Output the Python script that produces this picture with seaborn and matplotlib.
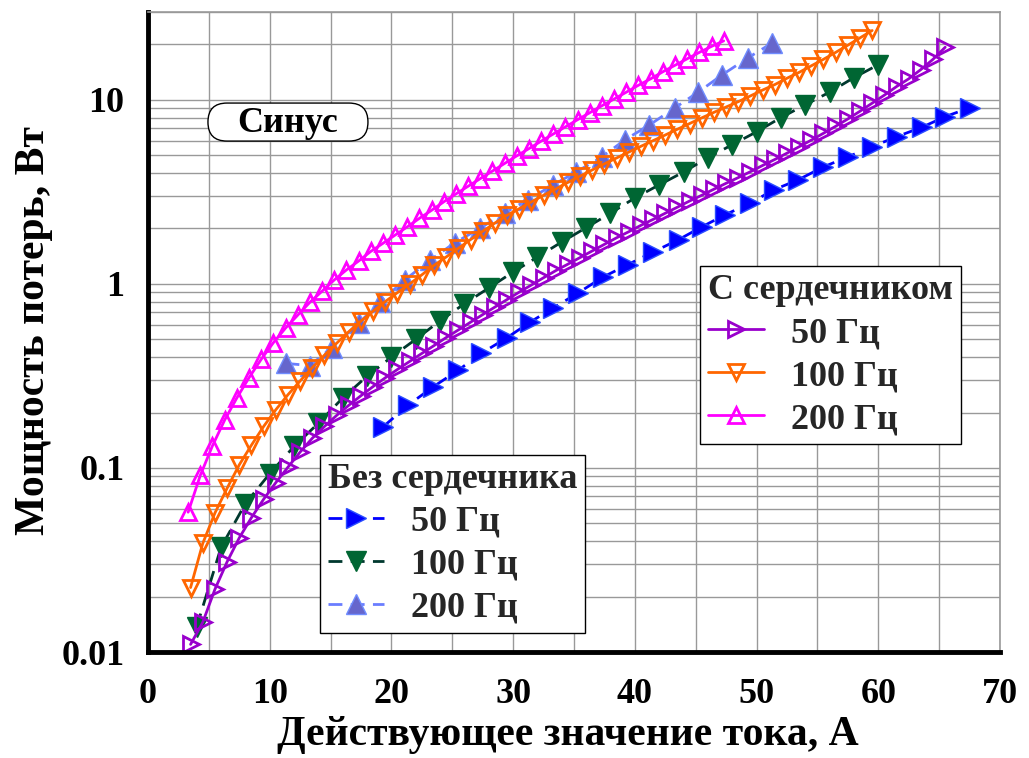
import numpy as np
import matplotlib
matplotlib.use("Agg")
import matplotlib.pyplot as plt
import seaborn as sns
from matplotlib.lines import Line2D
from matplotlib.patches import FancyBboxPatch
from matplotlib.ticker import LogLocator, NullFormatter

# С сердечником, 50 Гц (ток, А / мощность, Вт)
core50_i = [3.5, 4.5, 5.5, 6.5, 7.5, 8.5, 9.5, 10.5, 11.5, 12.5, 13.5, 14.5, 15.5, 16.5,
            17.5, 18.5, 19.5, 20.5, 21.5, 22.5, 23.5, 24.5, 25.5, 26.5, 27.5, 28.5, 29.5,
            30.5, 31.5, 32.5, 33.5, 34.5, 35.5, 36.5, 37.5, 38.5, 39.5, 40.5, 41.5, 42.5,
            43.5, 44.5, 45.5, 46.5, 47.5, 48.5, 49.5, 50.5, 51.5, 52.5, 53.5, 54.5, 55.5,
            56.5, 57.5, 58.5, 59.5, 60.5, 61.5, 62.5, 63.5, 64.5, 65.5]
core50_p = [0.011, 0.0145, 0.0219, 0.0309, 0.0417, 0.0537, 0.0676, 0.0832, 0.101, 0.122,
            0.145, 0.168, 0.193, 0.219, 0.247, 0.277, 0.309, 0.343, 0.379, 0.419, 0.462,
            0.511, 0.562, 0.619, 0.681, 0.748, 0.822, 0.902, 0.986, 1.08, 1.18, 1.28, 1.39,
            1.51, 1.64, 1.78, 1.92, 2.08, 2.24, 2.42, 2.61, 2.82, 3.03, 3.27, 3.52, 3.78,
            4.07, 4.40, 4.74, 5.13, 5.56, 6.04, 6.58, 7.18, 7.87, 8.67, 9.59, 10.6, 11.8,
            13.0, 14.6, 16.6, 19.3]

# С сердечником, 100 Гц
core100_i = [3.5, 4.5, 5.5, 6.5, 7.5, 8.5, 9.5, 10.5, 11.5, 12.5, 13.5, 14.5, 15.5, 16.5,
             17.5, 18.5, 19.5, 20.5, 21.5, 22.5, 23.5, 24.5, 25.5, 26.5, 27.5, 28.5, 29.5,
             30.5, 31.5, 32.5, 33.5, 34.5, 35.5, 36.5, 37.5, 38.5, 39.5, 40.5, 41.5, 42.5,
             43.5, 44.5, 45.5, 46.5, 47.5, 48.5, 49.5, 50.5, 51.5, 52.5, 53.5, 54.5, 55.5,
             56.5, 57.5, 58.5, 59.5]
core100_p = [0.0224, 0.0389, 0.0569, 0.0776, 0.104, 0.133, 0.168, 0.207, 0.250, 0.297,
             0.351, 0.410, 0.476, 0.550, 0.628, 0.711, 0.802, 0.897, 1.00, 1.12, 1.26, 1.40,
             1.56, 1.74, 1.93, 2.14, 2.36, 2.56, 2.79, 3.03, 3.28, 3.56, 3.85, 4.16, 4.49,
             4.83, 5.20, 5.59, 6.00, 6.44, 6.92, 7.43, 7.98, 8.55, 9.14, 9.77, 10.5, 11.3,
             12.1, 13.1, 14.1, 15.3, 16.6, 18.1, 19.8, 21.7, 23.8]

# С сердечником, 200 Гц
core200_i = [3.3, 4.3, 5.3, 6.3, 7.3, 8.3, 9.3, 10.3, 11.3, 12.3, 13.3, 14.3, 15.3, 16.3,
             17.3, 18.3, 19.3, 20.3, 21.3, 22.3, 23.3, 24.3, 25.3, 26.3, 27.3, 28.3, 29.3,
             30.3, 31.3, 32.3, 33.3, 34.3, 35.3, 36.3, 37.3, 38.3, 39.3, 40.3, 41.3, 42.3,
             43.3, 44.3, 45.3, 46.3, 47.3]
core200_p = [0.0575, 0.0912, 0.132, 0.182, 0.240, 0.309, 0.389, 0.479, 0.575, 0.676, 0.794,
             0.912, 1.05, 1.19, 1.33, 1.50, 1.66, 1.84, 2.04, 2.27, 2.51, 2.79, 3.08, 3.39,
             3.73, 4.10, 4.51, 4.96, 5.43, 5.96, 6.52, 7.13, 7.80, 8.51, 9.29, 10.1, 11.0,
             12.0, 13.0, 14.2, 15.4, 16.7, 18.1, 19.5, 20.9]

# Без сердечника, 50 Гц
nocore50_i = [19.3, 21.4, 23.4, 25.5, 27.4, 29.5, 31.4, 33.3, 35.3, 37.4, 39.4, 41.5, 43.6,
              45.5, 47.4, 49.5, 51.4, 53.4, 55.5, 57.5, 59.5, 61.5, 63.6, 65.5, 67.5]
nocore50_p = [0.167, 0.22, 0.275, 0.34, 0.42, 0.51, 0.62, 0.74, 0.89, 1.09, 1.27, 1.49, 1.74,
              2.04, 2.37, 2.75, 3.24, 3.67, 4.32, 4.9, 5.56, 6.3, 7.1, 8.1, 9.05]

# Без сердечника, 100 Гц
nocore100_i = [4, 6, 8, 10, 12, 14, 16, 18, 20, 22, 24, 26, 28, 30, 32, 34, 36, 38, 40, 42,
               44, 46, 48, 50, 52, 54, 56, 58, 60]
nocore100_p = [0.0137, 0.037, 0.064, 0.093, 0.131, 0.175, 0.24, 0.315, 0.40, 0.50, 0.63, 0.78,
               0.95, 1.16, 1.40, 1.69, 2.02, 2.42, 2.93, 3.45, 4.05, 4.85, 5.7, 6.7, 8.0, 9.4,
               11.0, 13.2, 15.5]

# Без сердечника, 200 Гц
nocore200_i = [11.3, 13.3, 15.1, 17.3, 19.1, 21.1, 23.2, 25.2, 27.3, 29.3, 31.2, 33.3, 35.2,
               37.3, 39.2, 41.2, 43.3, 45.2, 47.2, 49.3, 51.3]
nocore200_p = [0.37, 0.36, 0.45, 0.61, 0.80, 1.05, 1.35, 1.67, 2.01, 2.43, 2.86, 3.45, 4.06,
               4.9, 6.07, 7.3, 9.05, 11.0, 13.7, 16.9, 20.4]

freq_labels = ["50 Гц", "100 Гц", "200 Гц"]

sns.set_theme(style="white")
plt.rcParams['font.family'] = ['Liberation Serif', 'DejaVu Serif']
plt.rcParams['font.weight'] = 'bold'
plt.rcParams['axes.labelweight'] = 'bold'

fig, ax = plt.subplots(figsize=(10.29, 7.58), dpi=100)
fig.subplots_adjust(left=0.1438, right=0.9718, bottom=0.1398, top=0.9842)

DASH = (0, (5, 3))
FS = 26

# стили: без сердечника - закрашенные маркеры, пунктир
nocore_styles = [
    dict(color='#0000ff', marker='>', mfc='#0000ff', mec='#2a4dff', lc='#0000ff'),
    dict(color='#006633', marker='v', mfc='#006633', mec='#006633', lc='#00382e'),
    dict(color='#6666cc', marker='^', mfc='#6666cc', mec='#6f8cff', lc='#6a7dff'),
]
core_styles = [
    dict(color='#9900cc', marker='>'),
    dict(color='#ff6600', marker='v'),
    dict(color='#ff00ff', marker='^'),
]

nocore = [(nocore50_i, nocore50_p), (nocore100_i, nocore100_p), (nocore200_i, nocore200_p)]
core = [(core50_i, core50_p), (core100_i, core100_p), (core200_i, core200_p)]

for (xs, ys), st in zip(nocore, nocore_styles):
    sns.lineplot(x=xs, y=ys, ax=ax, estimator=None, sort=False, color=st['lc'],
                 marker=st['marker'], markersize=14, markerfacecolor=st['mfc'],
                 markeredgecolor=st['mec'], markeredgewidth=1, linestyle=DASH,
                 linewidth=2, legend=False)

for (xs, ys), st in zip(core, core_styles):
    sns.lineplot(x=xs, y=ys, ax=ax, estimator=None, sort=False, color=st['color'],
                 marker=st['marker'], markersize=12, markerfacecolor='none',
                 markeredgecolor=st['color'], markeredgewidth=2, linestyle='-',
                 linewidth=2, legend=False)

ax.set_yscale('log')
ax.set_xlim(0, 70)
ax.set_ylim(0.01, 30)

ax.set_xticks(range(0, 71, 10))
ax.set_xticks(range(5, 70, 10), minor=True)
ax.set_yticks([0.01, 0.1, 1, 10])
ax.set_yticklabels(['0.01', '0.1', '1', '10'])
ax.yaxis.set_minor_locator(LogLocator(base=10, subs=np.arange(2, 10)))
ax.yaxis.set_minor_formatter(NullFormatter())

ax.tick_params(which='major', direction='in', length=12, width=3, color='black',
               labelsize=FS, labelcolor='black')
ax.tick_params(which='minor', direction='in', length=6, width=3, color='black')
ax.tick_params(axis='x', which='major', pad=19)
ax.tick_params(axis='y', which='major', pad=17)

ax.grid(True, which='both', color='#999999', linewidth=1)
ax.set_axisbelow(True)

for side in ['left', 'bottom']:
    ax.spines[side].set_linewidth(3.5)
    ax.spines[side].set_color('black')
for side in ['top', 'right']:
    ax.spines[side].set_linewidth(1.2)
    ax.spines[side].set_color('#999999')

ax.set_xlabel('Действующее значение тока, А', fontsize=30, fontweight='bold', color='black')
ax.set_ylabel('Мощность потерь, Вт', fontsize=30, fontweight='bold', color='black')
ax.xaxis.set_label_coords(0.493, -0.1)
ax.yaxis.set_label_coords(-0.112, 0.503)

# подпись "Синус" в овальной рамке
box = FancyBboxPatch((0.0704, 0.7983), 0.1878, 0.0594, transform=ax.transAxes,
                     boxstyle='round,pad=0,rounding_size=0.0223',
                     mutation_aspect=852 / 640, fc='white', ec='black', lw=1, zorder=5)
ax.add_patch(box)
ax.text(0.1643, 0.826, 'Синус', transform=ax.transAxes, fontsize=FS, fontweight='bold',
        ha='center', va='center', zorder=6, color='black')

core_handles = [Line2D([], [], color=st['color'], marker=st['marker'], markersize=12,
                       markerfacecolor='none', markeredgewidth=2, linewidth=2)
                for st in core_styles]
nocore_handles = [Line2D([], [], color=st['lc'], marker=st['marker'], markersize=14,
                         markerfacecolor=st['mfc'], markeredgecolor=st['mec'],
                         markeredgewidth=1, linewidth=2, linestyle=DASH)
                  for st in nocore_styles]


def make_legend(handles, title, anchor):
    leg = ax.legend(handles=handles, labels=freq_labels, title=title, loc='upper left',
                    bbox_to_anchor=anchor, borderaxespad=0, fontsize=FS, alignment='left',
                    title_fontproperties={'weight': 'bold', 'size': FS}, frameon=True,
                    fancybox=False, edgecolor='black', framealpha=1, handlelength=1.55,
                    handletextpad=0.75, labelspacing=0.27, borderpad=0.22)
    leg.get_frame().set_linewidth(1)
    leg.set_zorder(10)
    return leg


leg1 = make_legend(core_handles, 'С сердечником', (0.648, 0.603))
ax.add_artist(leg1)
leg2 = make_legend(nocore_handles, 'Без сердечника', (0.202, 0.308))

fig.savefig('out.png', dpi=100)
